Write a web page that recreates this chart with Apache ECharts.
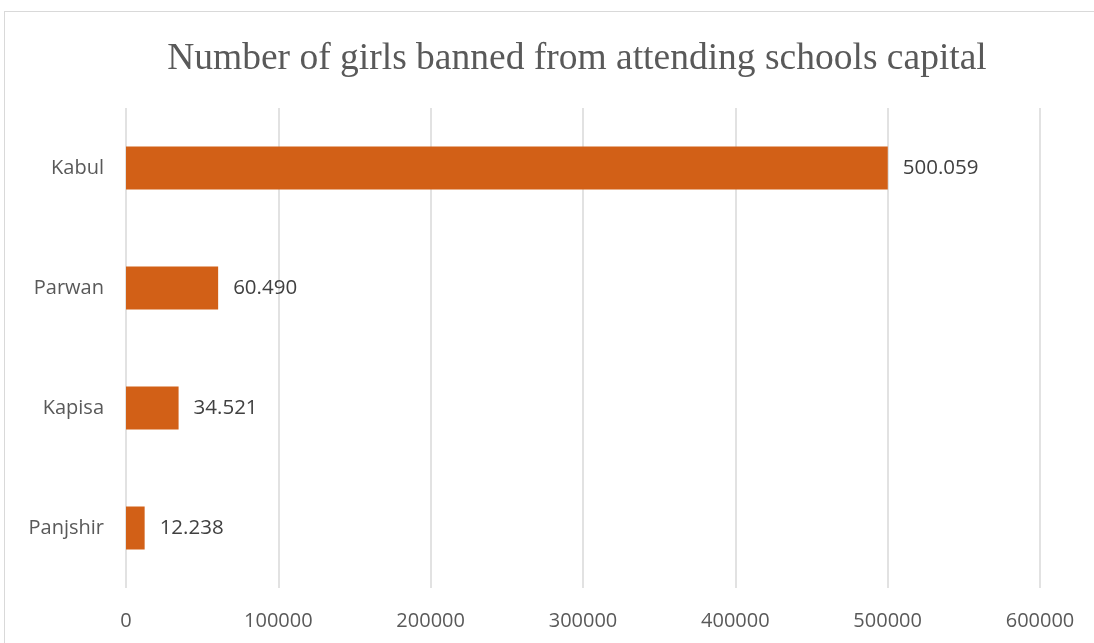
<!DOCTYPE html>
<html><head><meta charset="utf-8">
<script src="https://cdn.jsdelivr.net/npm/echarts@6/dist/echarts.min.js"></script>
<style>html,body{margin:0;padding:0;background:#fff;overflow:hidden}
#frame{position:absolute;left:4px;top:11px;width:1200px;height:800px;border:1px solid #d9d9d9;box-sizing:border-box}
#c{position:absolute;left:0;top:0;width:1094px;height:643px}</style>
</head><body><div id="frame"></div><div id="c"></div>
<script>
const title = 'Number of girls banned from attending schools capital';
const categories = ['Kabul', 'Parwan', 'Kapisa', 'Panjshir'];
const values = [500059, 60490, 34521, 12238];
const valueLabels = ['500.059', '60.490', '34.521', '12.238'];
const xTicks = [0, 100000, 200000, 300000, 400000, 500000, 600000];

const chart = echarts.init(document.getElementById('c'));
chart.setOption({
  animation: false,
  title: {text: title, left: 572, textAlign: 'center', top: 35,
    textStyle: {fontFamily: 'Liberation Serif', fontWeight: 'normal', fontSize: 37.5, color: '#595959'}},
  grid: {left: 126, right: 54, top: 108, bottom: 55, containLabel: false},
  xAxis: {type: 'value', min: xTicks[0], max: xTicks[xTicks.length-1], interval: 100000,
    axisLine: {show: false}, axisTick: {show: false},
    splitLine: {lineStyle: {color: '#d9d9d9', width: 1.5}},
    axisLabel: {margin: 23, fontFamily: 'Open Sans', fontSize: 20, color: '#595959',
      formatter: v => String(v)}},
  yAxis: {type: 'category', data: categories, inverse: true,
    axisLine: {show: false}, axisTick: {show: false},
    axisLabel: {margin: 22, fontFamily: 'Open Sans', fontSize: 20, color: '#595959'}},
  series: [{type: 'bar', data: values, barWidth: 43,
    itemStyle: {color: '#D26017'},
    label: {show: true, position: 'right', distance: 15, fontFamily: 'Open Sans', fontSize: 20.5, color: '#404040',
      formatter: p => valueLabels[p.dataIndex]}}]
});
</script></body></html>
